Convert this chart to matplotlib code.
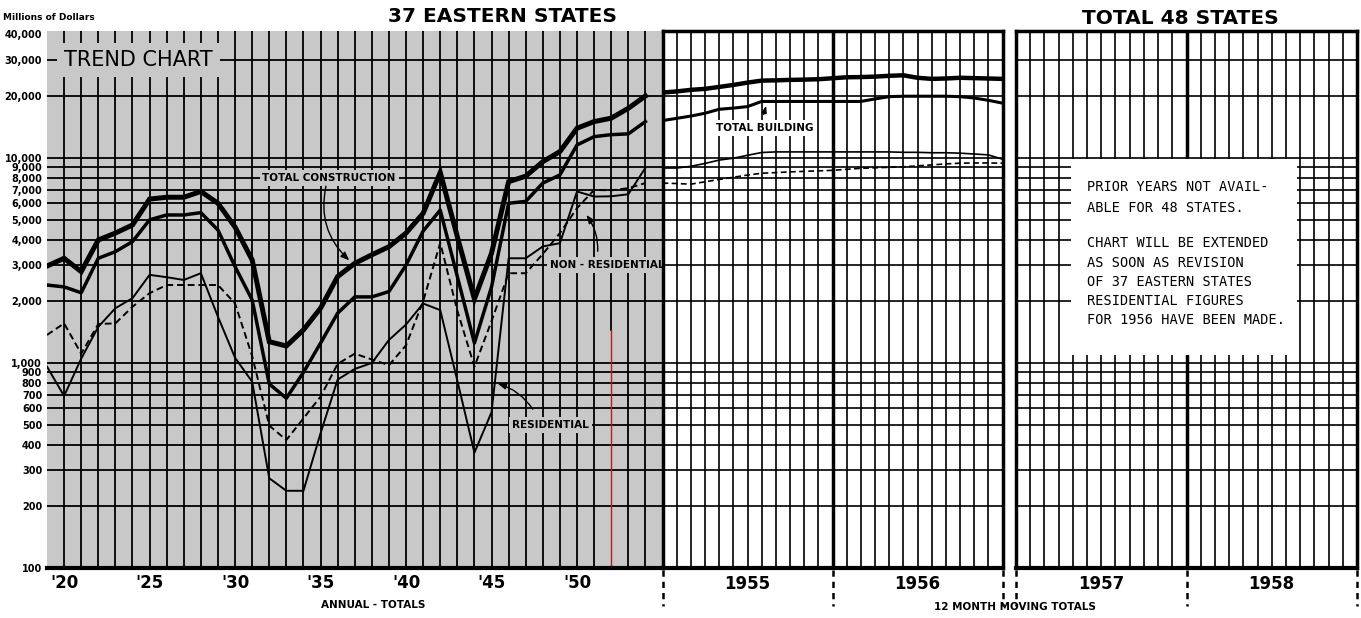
import matplotlib.pyplot as plt
from matplotlib.patches import Rectangle

plt.rcParams['font.family'] = ['DejaVu Sans']

# annual totals, 37 eastern states (millions of dollars)
years = list(range(1919, 1955))
total_construction = [2970, 3240, 2790, 3980, 4300, 4710, 6300, 6430, 6430, 6860,
                      6010, 4600, 3180, 1270, 1210, 1450, 1850, 2640, 3060, 3370,
                      3690, 4300, 5370, 8500, 4130, 2050, 3430, 7660, 8150, 9590,
                      10740, 13960, 15040, 15630, 17460, 20050]
total_building = [2400, 2350, 2200, 3240, 3490, 3910, 4990, 5270, 5270, 5410,
                  4450, 2950, 2030, 790, 673, 900, 1250, 1750, 2100, 2100,
                  2230, 3000, 4400, 5570, 2640, 1250, 2350, 6010, 6140, 7540,
                  8260, 11570, 12700, 12990, 13100, 15040]
residential = [960, 690, 1050, 1500, 1850, 2070, 2690, 2620, 2540, 2740,
               1680, 1060, 810, 274, 238, 238, 454, 830, 935, 1000,
               1295, 1540, 1950, 1810, 820, 365, 575, 3240, 3240, 3700,
               3840, 6860, 6480, 6500, 6650, 8950]
non_residential = [1370, 1560, 1110, 1550, 1560, 1880, 2190, 2400, 2400, 2400,
                   2400, 1950, 1080, 495, 421, 537, 685, 990, 1110, 1040,
                   975, 1220, 2000, 3850, 1800, 960, 1600, 2740, 2740, 3400,
                   4300, 5690, 6980, 6950, 7120, 7540]

# 12 month moving totals, Jan 1955 .. Dec 1956 (month boundaries)
months = list(range(25))
tc_monthly = [20850, 21100, 21480, 21720, 22200, 22700, 23300, 23830, 23900, 24020,
              24100, 24200, 24470, 24740, 24800, 24920, 25150, 25300, 24600, 24300,
              24400, 24600, 24500, 24400, 24300]
tb_monthly = [15210, 15600, 16000, 16520, 17270, 17500, 17800, 18860, 18860, 18860,
              18860, 18860, 18860, 18860, 18860, 19400, 19900, 20000, 20000, 20000,
              20000, 19900, 19600, 19100, 18500]
res_monthly = [8930, 8930, 9100, 9400, 9760, 9970, 10300, 10630, 10700, 10700,
               10700, 10700, 10700, 10700, 10700, 10700, 10700, 10650, 10650, 10600,
               10600, 10550, 10450, 10350, 9860]
nonres_monthly = [7540, 7500, 7450, 7650, 7850, 8050, 8250, 8420, 8480, 8550,
                  8600, 8650, 8700, 8800, 8900, 8950, 9000, 9050, 9150, 9250,
                  9350, 9430, 9450, 9450, 9430]

y_labels = [100, 200, 300, 400, 500, 600, 700, 800, 900,
            1000, 2000, 3000, 4000, 5000, 6000, 7000, 8000, 9000,
            10000, 20000, 30000, 40000]
grid_vals = [v for v in y_labels if 100 < v < 40000]
decade_labels = ["'20", "'25", "'30", "'35", "'40", "'45", "'50"]

W, H = 1361, 618
GRAY = '#c8c8c8'
fig = plt.figure(figsize=(W / 100, H / 100), dpi=100)


def fx(px):
    return px / W


def fy(py):
    return 1 - py / H


bot, top = 568, 31
hgt = (bot - top) / H
ax1 = fig.add_axes([fx(47), fy(bot), fx(662.5) - fx(47), hgt])
ax2 = fig.add_axes([fx(662.5), fy(bot), fx(1002.5) - fx(662.5), hgt])
ax3 = fig.add_axes([fx(1016), fy(bot), fx(1357) - fx(1016), hgt])

for ax in (ax1, ax2, ax3):
    ax.set_yscale('log')
    ax.set_ylim(100, 41600)
    ax.yaxis.set_minor_locator(plt.NullLocator())
    ax.tick_params(axis='both', which='both', length=0)

# ---- annual panel (gray) ----
ax1.set_xlim(1919, 1955)
ax1.set_facecolor(GRAY)
for s in ('left', 'top', 'right'):
    ax1.spines[s].set_visible(False)
ax1.spines['bottom'].set_linewidth(3)
for v in grid_vals:
    ax1.axhline(v, color='black', lw=1.3, zorder=1)
for yr in range(1920, 1955):
    if yr == 1952:
        # lower part of this rule is red on the original sheet
        ax1.plot([yr, yr], [1450, 41600], color='black', lw=1.3, zorder=1)
        ax1.plot([yr, yr], [100, 1450], color='#c01818', lw=1.0, zorder=1)
    else:
        ax1.axvline(yr, color='black', lw=1.3, zorder=1)

ax1.set_yticks(y_labels)
ax1.set_yticklabels([f"{v:,}" for v in y_labels], fontsize=7, weight='bold')
ax1.tick_params(axis='y', pad=3.5)
ax1.set_xticks(list(range(1920, 1955, 5)))
ax1.set_xticklabels(decade_labels, fontsize=12, weight='bold')
ax1.tick_params(axis='x', pad=4)

ax1.plot(years, total_construction, color='black', lw=3.6, zorder=3, solid_joinstyle='miter')
ax1.plot(years, total_building, color='black', lw=2.5, zorder=3)
ax1.plot(years, residential, color='black', lw=1.4, zorder=3)
ax1.plot(years, non_residential, color='black', lw=1.4, ls=(0, (3.5, 2)), zorder=3)

lab = dict(fontsize=7.5, weight='bold', va='center', ha='left', zorder=4,
           bbox=dict(fc=GRAY, ec='none', pad=2))
arr = dict(arrowstyle='-|>,head_length=0.5,head_width=0.2', color='black', lw=1)
ax1.text(1920.0, 30000, 'TREND CHART', fontsize=15, va='center', ha='left', zorder=4,
         bbox=dict(fc=GRAY, ec='none', pad=5))
ax1.text(1931.6, 8000, 'TOTAL CONSTRUCTION', **lab)
ax1.annotate('', xy=(1936.8, 3100), xytext=(1935.35, 7500),
             arrowprops=dict(connectionstyle='arc3,rad=0.3', **arr), zorder=4)
ax1.text(1948.4, 3000, 'NON - RESIDENTIAL', **lab)
ax1.annotate('', xy=(1950.45, 5400), xytext=(1951.2, 3400),
             arrowprops=dict(connectionstyle='arc3,rad=0.2', **arr), zorder=4)
ax1.text(1946.2, 500, 'RESIDENTIAL', **lab)
ax1.annotate('', xy=(1945.2, 800), xytext=(1947.5, 580),
             arrowprops=dict(connectionstyle='arc3,rad=0.2', **arr), zorder=4)

# ---- monthly panels ----
for ax, labels in ((ax2, ['1955', '1956']), (ax3, ['1957', '1958'])):
    ax.set_xlim(0, 24)
    for s in ax.spines.values():
        s.set_linewidth(2.5)
    ax.spines['bottom'].set_linewidth(3)
    for v in grid_vals:
        ax.axhline(v, color='black', lw=1.2, zorder=1)
    for m in range(1, 24):
        ax.axvline(m, color='black', lw=2.5 if m == 12 else 1.2, zorder=1)
    ax.set_yticks([])
    ax.set_xticks([6, 18])
    ax.set_xticklabels(labels, fontsize=12, weight='bold')
    ax.tick_params(axis='x', pad=5)
    for m in (0, 12, 24):
        ax.plot([m, m], [-0.004, -0.07], transform=ax.get_xaxis_transform(),
                color='black', lw=1.8, ls=(0, (2.5, 2)), clip_on=False)

ax2.plot(months, tc_monthly, color='black', lw=3.2, zorder=3)
ax2.plot(months, tb_monthly, color='black', lw=2.2, zorder=3)
ax2.plot(months, res_monthly, color='black', lw=1.2, zorder=3)
ax2.plot(months, nonres_monthly, color='black', lw=1.2, ls=(0, (3.5, 2)), zorder=3)
ax2.text(7.24, 14000, 'TOTAL BUILDING', fontsize=7.5, weight='bold', ha='center',
         va='center', zorder=4, bbox=dict(fc='white', ec='none', pad=2))
ax2.annotate('', xy=(7.37, 18500), xytext=(7.09, 15800),
             arrowprops=dict(arrowstyle='-|>,head_length=0.4,head_width=0.15',
                             color='black', lw=1), zorder=4)

ax3.add_patch(Rectangle((3.85, 1090), 19.8 - 3.85, 9850 - 1090,
                        fc='white', ec='none', zorder=2))
note = [('PRIOR YEARS NOT AVAIL-', 187), ('ABLE FOR 48 STATES.', 208),
        ('CHART WILL BE EXTENDED', 243), ('AS SOON AS REVISION', 263),
        ('OF 37 EASTERN STATES', 282), ('RESIDENTIAL FIGURES', 301),
        ('FOR 1956 HAVE BEEN MADE.', 320)]
for line, py in note:
    fig.text(fx(1087), fy(py), line, family='DejaVu Sans Mono', fontsize=9.8,
             ha='left', va='center')

# ---- titles and captions ----
fig.text(fx(3), fy(17), 'Millions of Dollars', fontsize=6.5, weight='bold', va='center')
fig.text(fx(503), fy(17), '37 EASTERN STATES', fontsize=14.5, weight='bold',
         ha='center', va='center')
fig.text(fx(1180), fy(18), 'TOTAL 48 STATES', fontsize=14.5, weight='bold',
         ha='center', va='center')
fig.text(fx(373), fy(605), 'ANNUAL - TOTALS', fontsize=7.5, weight='bold',
         ha='center', va='center')
fig.text(fx(1015), fy(607), '12 MONTH MOVING TOTALS', fontsize=7.5, weight='bold',
         ha='center', va='center')

fig.savefig('out.png', dpi=100)
